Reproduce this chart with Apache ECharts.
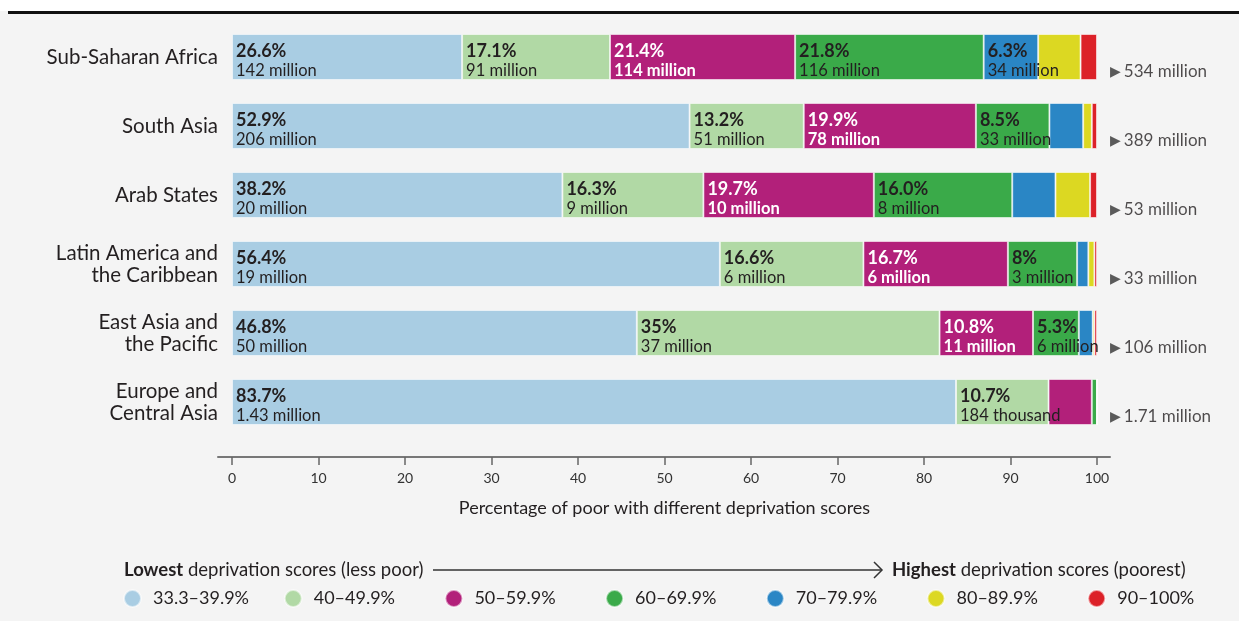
<!DOCTYPE html>
<html>
<head>
<meta charset="utf-8">
<script src="https://cdn.jsdelivr.net/npm/echarts@6/dist/echarts.min.js"></script>
<style>
  body { margin: 0; background: #f4f4f4; }
  #chart { width: 1239px; height: 621px; }
</style>
</head>
<body>
<div id="chart"></div>
<script>
// regions, top to bottom
const regions = ['Sub-Saharan Africa', 'South Asia', 'Arab States', 'Latin America and\nthe Caribbean', 'East Asia and\nthe Pacific', 'Europe and\nCentral Asia'];
const totals = ['534 million', '389 million', '53 million', '33 million', '106 million', '1.71 million'];

const bandNames = ['33.3–39.9%', '40–49.9%', '50–59.9%', '60–69.9%', '70–79.9%', '80–89.9%', '90–100%'];
const bandColors = ['#a9cde3', '#b1d9a5', '#b2207a', '#3aaa49', '#2a86c5', '#dcd822', '#dc2128'];

// share of poor (%) per deprivation band
const band1 = [26.6, 52.9, 38.2, 56.4, 46.8, 83.7];
const band2 = [17.1, 13.2, 16.3, 16.6, 35.0, 10.7];
const band3 = [21.4, 19.9, 19.7, 16.7, 10.8, 5.0];
const band4 = [21.8, 8.5, 16.0, 8.0, 5.3, 0.6];
const band5 = [6.3, 3.9, 5.0, 1.3, 1.6, 0];
const band6 = [4.9, 1.0, 4.0, 0.7, 0.2, 0];
const band7 = [1.9, 0.6, 0.8, 0.3, 0.3, 0];

// printed labels
const pct1 = ['26.6%', '52.9%', '38.2%', '56.4%', '46.8%', '83.7%'];
const pop1 = ['142 million', '206 million', '20 million', '19 million', '50 million', '1.43 million'];
const pct2 = ['17.1%', '13.2%', '16.3%', '16.6%', '35%', '10.7%'];
const pop2 = ['91 million', '51 million', '9 million', '6 million', '37 million', '184 thousand'];
const pct3 = ['21.4%', '19.9%', '19.7%', '16.7%', '10.8%', ''];
const pop3 = ['114 million', '78 million', '10 million', '6 million', '11 million', ''];
const pct4 = ['21.8%', '8.5%', '16.0%', '8%', '5.3%', ''];
const pop4 = ['116 million', '33 million', '8 million', '3 million', '6 million', ''];
const pct5 = ['6.3%', '', '', '', '', ''];
const pop5 = ['34 million', '', '', '', '', ''];
const empty = ['', '', '', '', '', ''];

const xTicks = { min: 0, max: 100, interval: 10 };

const bands = [band1, band2, band3, band4, band5, band6, band7];
const pcts = [pct1, pct2, pct3, pct4, pct5, empty, empty];
const pops = [pop1, pop2, pop3, pop4, pop5, empty, empty];

const FONT = 'Lato';
const dark = '#231f20';

const barSeries = bands.map(function (vals, k) {
  const onDark = k === 2;
  return {
    name: bandNames[k],
    type: 'bar',
    stack: 'total',
    barWidth: 46,
    data: vals,
    itemStyle: { color: bandColors[k], borderColor: 'rgba(255,255,255,0.55)', borderWidth: 1 },
    label: {
      show: true,
      position: [4, 8],
      align: 'left',
      verticalAlign: 'top',
      formatter: function (p) {
        const pc = pcts[k][p.dataIndex];
        if (!pc) return '';
        return '{p|' + pc + '}\n{m|' + pops[k][p.dataIndex] + '}';
      },
      rich: {
        p: { fontFamily: FONT, fontSize: 18, fontWeight: 'bold', lineHeight: 19, color: onDark ? '#fff' : dark },
        m: { fontFamily: FONT, fontSize: 16.5, fontWeight: onDark ? 'bold' : 'normal', lineHeight: 19, color: onDark ? '#fff' : dark }
      }
    },
    emphasis: { disabled: true }
  };
});

const totalSeries = {
  type: 'scatter',
  symbolSize: 0,
  data: totals.map(function (t, i) { return [100, i]; }),
  label: {
    show: true,
    position: 'right',
    distance: 13,
    offset: [0, 15],
    formatter: function (p) { return '{t|▶} {v|' + totals[p.dataIndex] + '}'; },
    rich: {
      t: { fontFamily: 'DejaVu Sans', fontSize: 14, color: '#333' },
      v: { fontFamily: FONT, fontSize: 17, color: dark }
    }
  },
  silent: true
};

// one legend per band so the items sit on an even pitch
const legends = bandNames.map(function (n, i) {
  return {
    data: [n],
    left: 118 + i * 160.7,
    top: 584,
    icon: 'circle',
    itemWidth: 17,
    itemHeight: 17,
    selectedMode: false,
    textStyle: { fontFamily: FONT, fontSize: 18, color: dark, padding: [0, 0, 0, 7] }
  };
});

const chart = echarts.init(document.getElementById('chart'));
chart.setOption({
  backgroundColor: '#f4f4f4',
  animation: false,
  textStyle: { fontFamily: FONT },
  grid: [
    { left: 232, right: 142, top: 22.5, bottom: 184.5 },
    { left: 218, right: 129, top: 22.5, bottom: 184.5 }
  ],
  xAxis: [
    {
      type: 'value',
      min: xTicks.min, max: xTicks.max, interval: xTicks.interval,
      offset: 20.5,
      axisLine: { show: false },
      axisTick: { show: true, length: 8, lineStyle: { color: '#666', width: 1.5 } },
      axisLabel: { fontFamily: FONT, fontSize: 14, color: '#333', margin: 14 },
      splitLine: { show: false },
      name: 'Percentage of poor with different deprivation scores',
      nameLocation: 'middle',
      nameGap: 42,
      nameTextStyle: { fontFamily: FONT, fontSize: 18, color: dark }
    },
    {
      type: 'value', gridIndex: 1, min: 0, max: 1,
      offset: 20.5,
      axisLine: { show: true, lineStyle: { color: '#777', width: 2 } },
      axisTick: { show: false },
      axisLabel: { show: false },
      splitLine: { show: false }
    }
  ],
  yAxis: [
    {
      type: 'category',
      inverse: true,
      data: regions,
      axisLine: { show: false },
      axisTick: { show: false },
      axisLabel: { fontFamily: FONT, fontSize: 20.5, color: dark, margin: 14, lineHeight: 22, padding: [4, 0, 0, 0] }
    },
    { type: 'category', gridIndex: 1, show: false, data: regions }
  ],
  legend: legends,
  graphic: [
    { type: 'rect', left: 0, top: 0, shape: { width: 1239, height: 11 }, style: { fill: '#fff' } },
    { type: 'line', shape: { x1: 8, y1: 12.5, x2: 1239, y2: 12.5 }, style: { stroke: '#111', lineWidth: 3 } },
    {
      type: 'text', left: 124, top: 561,
      style: {
        text: '{b|Lowest} deprivation scores (less poor)',
        font: '18.5px Lato', fill: dark,
        rich: { b: { fontFamily: FONT, fontSize: 18.5, fontWeight: 'bold', fill: dark } }
      }
    },
    { type: 'line', shape: { x1: 433, y1: 570, x2: 882, y2: 570 }, style: { stroke: '#333', lineWidth: 1.5 } },
    { type: 'polyline', shape: { points: [[874, 562], [882, 570], [874, 578]] }, style: { stroke: '#333', lineWidth: 1.5, fill: null } },
    {
      type: 'text', left: 892, top: 561,
      style: {
        text: '{b|Highest} deprivation scores (poorest)',
        font: '18.5px Lato', fill: dark,
        rich: { b: { fontFamily: FONT, fontSize: 18.5, fontWeight: 'bold', fill: dark } }
      }
    }
  ],
  series: barSeries.concat([totalSeries])
});
</script>
</body>
</html>
